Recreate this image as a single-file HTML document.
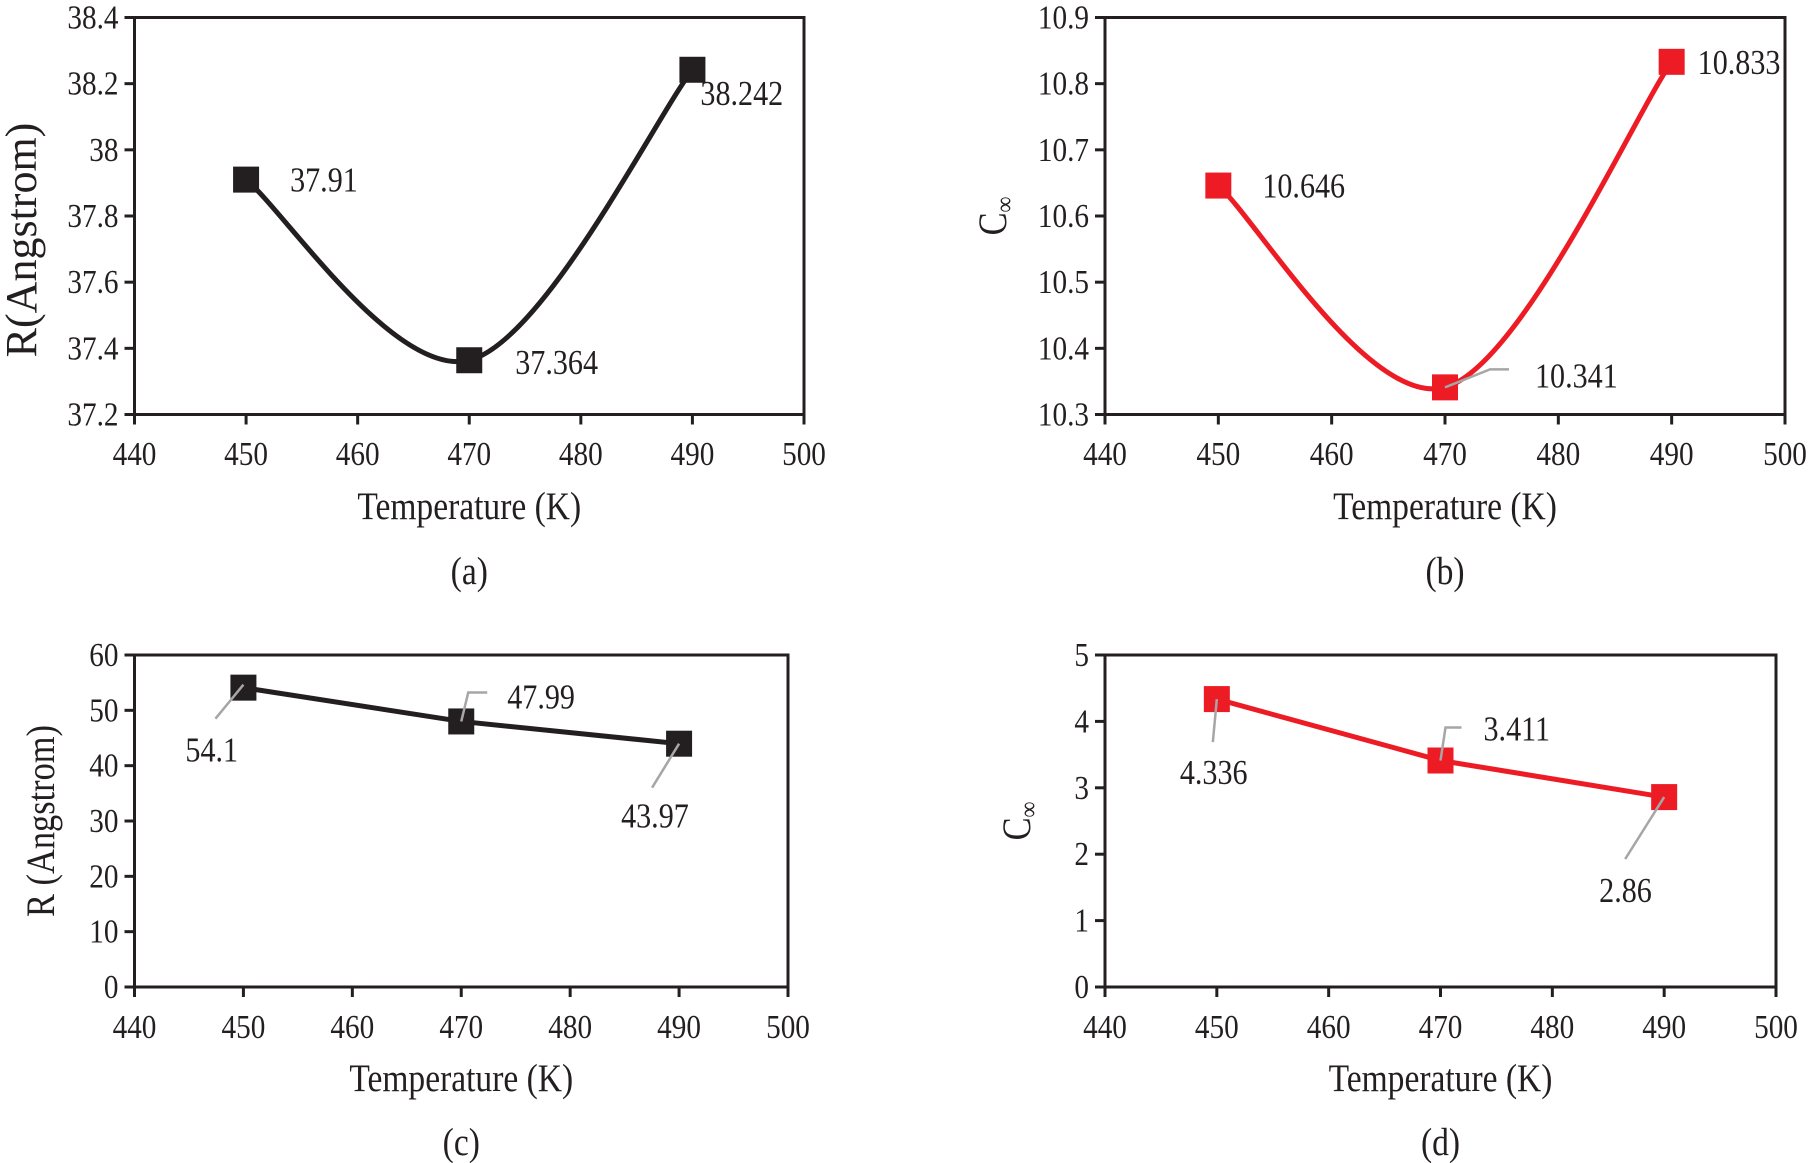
<!DOCTYPE html>
<html><head><meta charset="utf-8"><style>
html,body{margin:0;padding:0;background:#fff;}
svg{display:block;font-family:"Liberation Serif",serif;}
</style></head><body>
<svg id="fig" width="1820" height="1163" viewBox="0 0 1820 1163" xmlns="http://www.w3.org/2000/svg"></svg>
<script>
const xCategories = [450, 470, 490];
const xTicks = [440, 450, 460, 470, 480, 490, 500];
const seriesA = [37.91, 37.364, 38.242];
const labelsA = ["37.91", "37.364", "38.242"];
const ticksA = [37.2, 37.4, 37.6, 37.8, 38, 38.2, 38.4];
const tickLabelsA = ["37.2","37.4","37.6","37.8","38","38.2","38.4"];
const seriesB = [10.646, 10.341, 10.833];
const labelsB = ["10.646", "10.341", "10.833"];
const ticksB = [10.3, 10.4, 10.5, 10.6, 10.7, 10.8, 10.9];
const tickLabelsB = ["10.3","10.4","10.5","10.6","10.7","10.8","10.9"];
const seriesC = [54.1, 47.99, 43.97];
const labelsC = ["54.1", "47.99", "43.97"];
const ticksC = [0, 10, 20, 30, 40, 50, 60];
const seriesD = [4.336, 3.411, 2.86];
const labelsD = ["4.336", "3.411", "2.86"];
const ticksD = [0, 1, 2, 3, 4, 5];

const NS = "http://www.w3.org/2000/svg";
const svg = document.getElementById("fig");
const SX = 0.86;
function mk(tag, attrs, parent) {
  const e = document.createElementNS(NS, tag);
  for (const k in attrs) e.setAttribute(k, attrs[k]);
  (parent || svg).appendChild(e);
  return e;
}
function txt(s, x, y, attrs, parent) {
  attrs.transform = `translate(${x},${y}) scale(${SX},1)`;
  const t = mk("text", attrs, parent); t.textContent = s; return t;
}

function chart(cfg) {
  const g = mk("g", {});
  
  
  const L = cfg.L, R = cfg.R, T = cfg.T, B = cfg.B;
  const xs = v => L + (v - 440) / 60 * (R - L);
  const ymin = cfg.yt[0], ymax = cfg.yt[cfg.yt.length - 1];
  const ys = v => B - (v - ymin) / (ymax - ymin) * (B - T);
  const frame = mk("rect", {x: L, y: T, width: R - L, height: B - T, fill: "none", stroke: "#231f20", "stroke-width": 3}, g);
  
  
  cfg.yt.forEach((v, i) => {
    const y = ys(v);
    const tk = mk("line", {x1: L - 10, x2: L, y1: y, y2: y, stroke: "#231f20", "stroke-width": 3}, g);
    
    
    const t = txt(cfg.ytl[i], L - 16, y + 11, {"text-anchor": "end", "font-size": 34, fill: "#231f20"}, g);
    
    
  });
  xTicks.forEach(v => {
    const x = xs(v);
    const tk = mk("line", {x1: x, x2: x, y1: B, y2: B + 10, stroke: "#231f20", "stroke-width": 3}, g);
    
    
    const t = txt(String(v), x, cfg.xtY, {"text-anchor": "middle", "font-size": 34, fill: "#231f20"}, g);
    
    
  });
  const xt = txt("Temperature (K)", (L + R) / 2, cfg.titleY, {"text-anchor": "middle", "font-size": 39, fill: "#231f20"}, g);
  
  
  const ysx = cfg.ytScale || SX;
  const yt = mk("text", {transform: `translate(${cfg.ytx},${(T + B) / 2 + (cfg.ytDy || 0)}) rotate(-90) scale(${ysx},1)`, "text-anchor": "middle", "font-size": cfg.ytSize || 40, fill: "#231f20"}, g);
  if (cfg.cinf) {
    const a = mk("tspan", {}, yt); a.textContent = "C";
    const b = mk("tspan", {"font-size": 26, dy: 7}, yt); b.textContent = "∞";
  } else yt.textContent = cfg.ytitle;
  
  
  const cap = txt(cfg.cap, (L + R) / 2, cfg.capY, {"text-anchor": "middle", "font-size": 39, fill: "#231f20"}, g);
  
  

  const pts = xCategories.map((c, i) => [xs(c), ys(cfg.data[i])]);
  let d = "M" + pts[0][0] + "," + pts[0][1];
  if (cfg.smooth) {
    const t = 0.5 / 3;
    for (let i = 0; i < pts.length - 1; i++) {
      const p0 = pts[Math.max(0, i - 1)], p1 = pts[i], p2 = pts[i + 1], p3 = pts[Math.min(pts.length - 1, i + 2)];
      const c1 = [p1[0] + (p2[0] - p0[0]) * t, p1[1] + (p2[1] - p0[1]) * t];
      const c2 = [p2[0] - (p3[0] - p1[0]) * t, p2[1] - (p3[1] - p1[1]) * t];
      d += ` C${c1[0]},${c1[1]} ${c2[0]},${c2[1]} ${p2[0]},${p2[1]}`;
    }
  } else {
    for (let i = 1; i < pts.length; i++) d += ` L${pts[i][0]},${pts[i][1]}`;
  }
  const line = mk("path", {d: d, fill: "none", stroke: cfg.color, "stroke-width": 5}, g);
  
  
  pts.forEach((p, i) => {
    const m = mk("rect", {x: p[0] - 13, y: p[1] - 13, width: 26, height: 26, fill: cfg.color}, g);
    
    
    const o = cfg.lab[i];
    if (o.leader) {
      const pl = o.leader.map(q => [p[0] + q[0], p[1] + q[1]]);
      const ld = mk("polyline", {points: pl.map(q => q.join(",")).join(" "), fill: "none", stroke: "#a6a6a6", "stroke-width": 2.5}, g);
      
      
    }
    const lt = txt(cfg.labels[i], p[0] + o.dx, p[1] + o.dy, {"font-size": 35, fill: "#231f20"}, g);
    
    
  });
}

chart({name: "chart-a", L: 134.5, R: 804, T: 17.5, B: 414.5, yt: ticksA, ytl: tickLabelsA, data: seriesA, labels: labelsA,
  color: "#231f20", smooth: true, ytitle: "R(Angstrom)", ytx: 36, ytSize: 44, ytScale: 1.0, ytDy: 24, xtY: 465, titleY: 519, cap: "(a)", capY: 584,
  lab: [{dx: 44, dy: 12}, {dx: 46, dy: 14}, {dx: 8, dy: 35}]});
chart({name: "chart-b", L: 1105, R: 1785, T: 17.5, B: 414.5, yt: ticksB, ytl: tickLabelsB, data: seriesB, labels: labelsB,
  color: "#ed1c24", smooth: true, cinf: true, ytx: 1006, xtY: 465, titleY: 519, cap: "(b)", capY: 584,
  lab: [{dx: 44, dy: 12}, {dx: 90, dy: 0, leader: [[0, 0], [45, -18], [64, -18]]}, {dx: 26, dy: 12}]});
chart({name: "chart-c", L: 134.5, R: 788, T: 655, B: 987, yt: ticksC, ytl: ticksC.map(String), data: seriesC, labels: labelsC,
  color: "#231f20", smooth: false, ytitle: "R (Angstrom)", ytx: 54, xtY: 1038, titleY: 1091, cap: "(c)", capY: 1155,
  lab: [{dx: -58, dy: 74, leader: [[0, -3], [-28, 31]]}, {dx: 46, dy: -13, leader: [[0, 0], [7, -29], [26, -29]]}, {dx: -58, dy: 84, leader: [[0, 0], [-27, 44]]}]});
chart({name: "chart-d", L: 1105, R: 1776, T: 655, B: 987, yt: ticksD, ytl: ticksD.map(String), data: seriesD, labels: labelsD,
  color: "#ed1c24", smooth: false, cinf: true, ytx: 1030, xtY: 1038, titleY: 1091, cap: "(d)", capY: 1155,
  lab: [{dx: -37, dy: 85, leader: [[0, 0], [-4, 43]]}, {dx: 43, dy: -20, leader: [[0, 0], [5, -33], [21, -33]]}, {dx: -65, dy: 105, leader: [[0, 0], [-39, 62]]}]});
</script>
</body></html>
